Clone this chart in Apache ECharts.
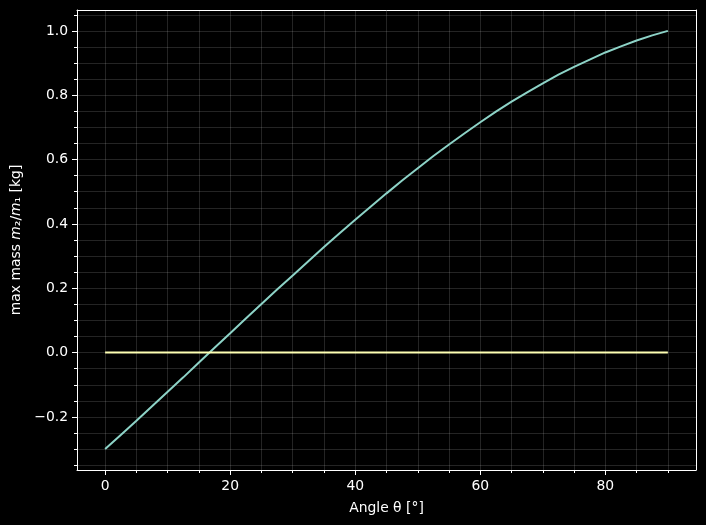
<!DOCTYPE html>
<html>
<head>
<meta charset="utf-8">
<script src="https://cdn.jsdelivr.net/npm/echarts@6/dist/echarts.min.js"></script>
<style>
html,body{margin:0;padding:0;background:#000;}
#chart{width:706px;height:525px;}
</style>
</head>
<body>
<div id="chart"></div>
<script>
// Angle θ in degrees
const angles = [0,2.5,5,7.5,10,12.5,15,17.5,20,22.5,25,27.5,30,32.5,35,37.5,40,42.5,45,47.5,50,52.5,55,57.5,60,62.5,65,67.5,70,72.5,75,77.5,80,82.5,85,87.5,90];
// max mass m2/m1
const maxMass = [-0.300,-0.256,-0.212,-0.167,-0.122,-0.077,-0.031,0.015,0.060,0.106,0.151,0.196,0.240,0.284,0.328,0.371,0.413,0.454,0.495,0.535,0.573,0.611,0.647,0.682,0.716,0.749,0.780,0.809,0.837,0.864,0.888,0.911,0.933,0.952,0.970,0.986,1.000];
// zero reference line
const zeroX = [0, 90];
const zeroY = [0, 0];
// tick values
const xMajor = [0,20,40,60,80];
const xMinor = [5,10,15,25,30,35,45,50,55,65,70,75,85,90];
const yMajor = [-0.2,0.0,0.2,0.4,0.6,0.8,1.0];
const yMinor = [-0.35,-0.3,-0.25,-0.15,-0.1,-0.05,0.05,0.1,0.15,0.25,0.3,0.35,0.45,0.5,0.55,0.65,0.7,0.75,0.85,0.9,0.95,1.05];

const FONT = 'DejaVu Sans';
const gridColor = 'rgba(255,255,255,0.14)';
const fmtY = v => Number(v).toFixed(1).replace('-', '\u2212');

const chart = echarts.init(document.getElementById('chart'), null, {renderer:'canvas'});
const xRange = {min:-4.5, max:94.5};
const yRange = {min:-0.365, max:1.065};
const spine = {show:true, onZero:false, lineStyle:{color:'#fff', width:1}};
const noLine = {show:false, onZero:false};

chart.setOption({
  backgroundColor:'#000',
  animation:false,
  grid:{left:77, top:10, right:10, bottom:55, show:false, containLabel:false},
  xAxis:[
    {type:'value', ...xRange, position:'bottom',
     axisLine:spine,
     axisTick:{show:true, customValues:xMajor, length:5, inside:false, lineStyle:{color:'#fff', width:1}},
     axisLabel:{show:true, customValues:xMajor, color:'#fff', fontFamily:FONT, fontSize:13.9, margin:9},
     splitLine:{show:true, lineStyle:{color:gridColor, width:1}},
     name:'Angle θ [°]', nameLocation:'middle', nameGap:31,
     nameTextStyle:{color:'#fff', fontFamily:FONT, fontSize:13.9}
    },
    {type:'value', ...xRange, position:'bottom', offset:0,
     axisLine:noLine,
     axisTick:{show:true, customValues:xMinor, length:3, inside:false, lineStyle:{color:'#fff', width:1}},
     axisLabel:{show:false},
     splitLine:{show:true, lineStyle:{color:gridColor, width:1}}
    },
    {type:'value', ...xRange, position:'top', offset:0,
     axisLine:spine, axisTick:{show:false}, axisLabel:{show:false}, splitLine:{show:false}
    }
  ],
  yAxis:[
    {type:'value', ...yRange, position:'left',
     axisLine:spine,
     axisTick:{show:true, customValues:yMajor, length:5, inside:false, lineStyle:{color:'#fff', width:1}},
     axisLabel:{show:true, customValues:yMajor, formatter:fmtY, color:'#fff', fontFamily:FONT, fontSize:13.9, margin:9},
     splitLine:{show:true, lineStyle:{color:gridColor, width:1}},
     name:'max mass {i|m}₂/{i|m}₁ [kg]', nameLocation:'middle', nameGap:53, nameRotate:90,
     nameTextStyle:{color:'#fff', fontFamily:FONT, fontSize:13.9,
       rich:{i:{fontStyle:'italic', color:'#fff', fontFamily:FONT, fontSize:13.9}}}
    },
    {type:'value', ...yRange, position:'left', offset:0,
     axisLine:noLine,
     axisTick:{show:true, customValues:yMinor, length:3, inside:false, lineStyle:{color:'#fff', width:1}},
     axisLabel:{show:false},
     splitLine:{show:true, lineStyle:{color:gridColor, width:1}}
    },
    {type:'value', ...yRange, position:'right', offset:0,
     axisLine:spine, axisTick:{show:false}, axisLabel:{show:false}, splitLine:{show:false}
    }
  ],
  series:[
    {type:'line', xAxisIndex:0, yAxisIndex:0, data:angles.map((a,i)=>[a, maxMass[i]]),
     showSymbol:false, smooth:false, lineStyle:{color:'#8dd3c7', width:2}, z:3},
    {type:'line', xAxisIndex:0, yAxisIndex:0, data:zeroX.map((a,i)=>[a, zeroY[i]]),
     showSymbol:false, lineStyle:{color:'#feffb3', width:2}, z:3}
  ]
});
</script>
</body>
</html>
